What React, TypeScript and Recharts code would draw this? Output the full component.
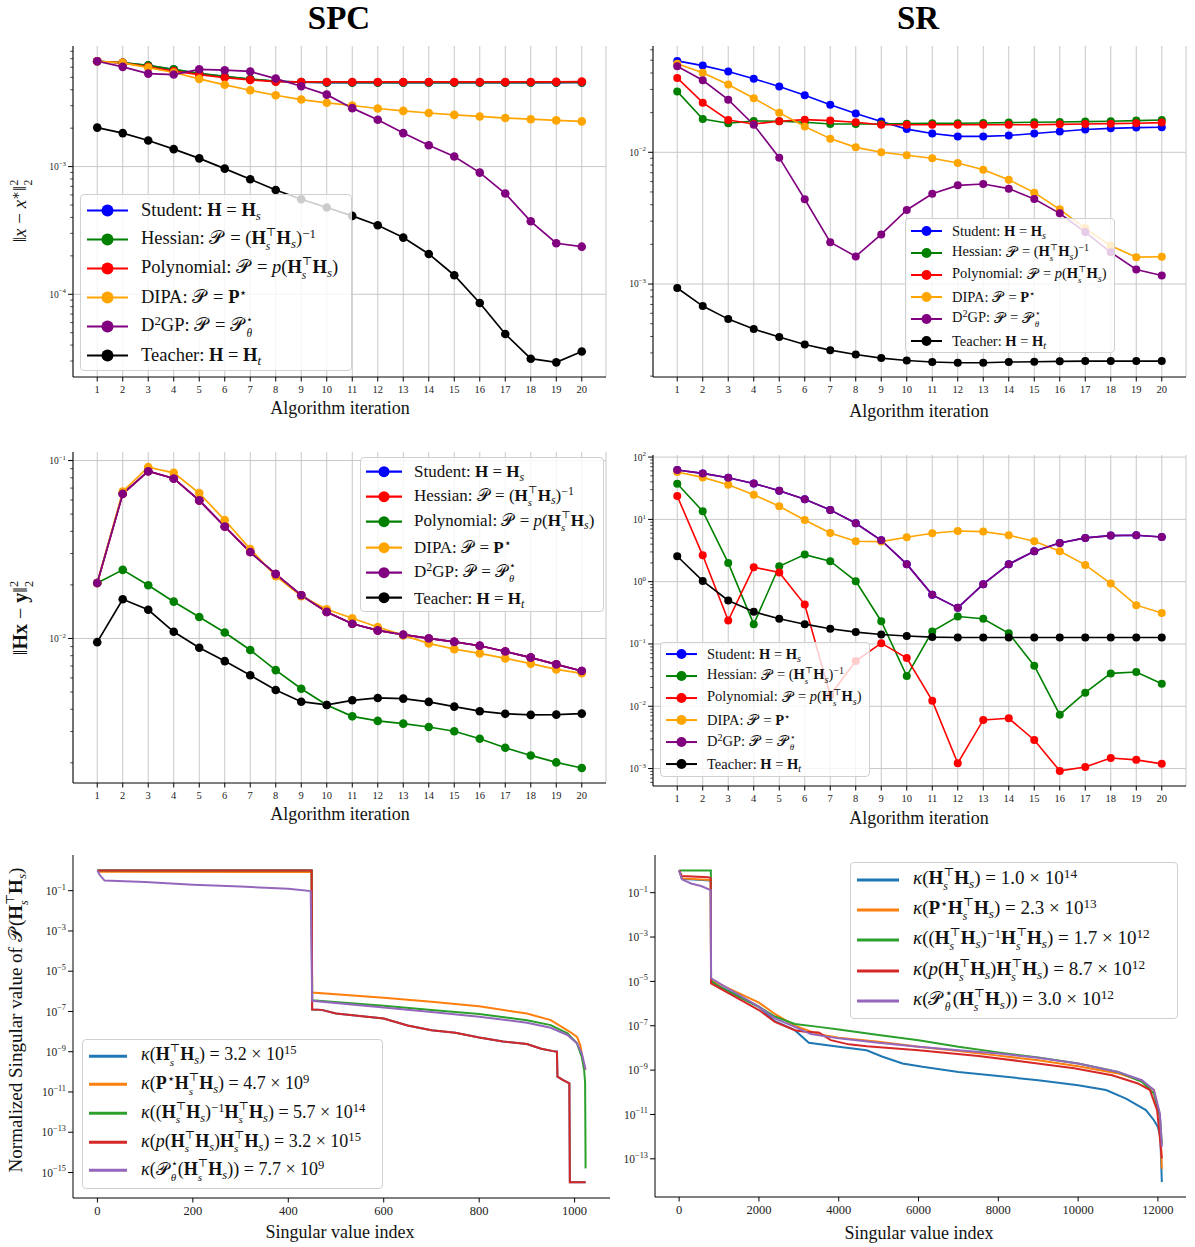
import React from 'react';
import { LineChart, Line, XAxis, YAxis, CartesianGrid } from 'recharts';

const FONT = '"Liberation Serif", "DejaVu Serif", serif';

// ---- shared categories ----
const iterations = [1, 2, 3, 4, 5, 6, 7, 8, 9, 10, 11, 12, 13, 14, 15, 16, 17, 18, 19, 20];

// ---- SPC: ||x - x*||^2 ----
const spcXStudent = [0.00668, 0.00649, 0.00618, 0.00575, 0.00535, 0.00507, 0.00483, 0.00466, 0.00458, 0.00455, 0.00455, 0.00455, 0.00455, 0.00455, 0.00455, 0.00455, 0.00455, 0.00455, 0.00455, 0.00456];
const spcXHessian = [0.00668, 0.00651, 0.0062, 0.00577, 0.00537, 0.00508, 0.00484, 0.00467, 0.00459, 0.00456, 0.00455, 0.00455, 0.00455, 0.00455, 0.00455, 0.00455, 0.00455, 0.00455, 0.00456, 0.00457];
const spcXPoly = [0.00668, 0.00649, 0.00604, 0.00559, 0.00526, 0.00498, 0.00478, 0.00463, 0.0046, 0.0046, 0.0046, 0.0046, 0.0046, 0.0046, 0.0046, 0.0046, 0.0046, 0.0046, 0.00461, 0.00463];
const spcXDipa = [0.00668, 0.00649, 0.00596, 0.00546, 0.00486, 0.00437, 0.00396, 0.00362, 0.00335, 0.00316, 0.00301, 0.00285, 0.00273, 0.00263, 0.00254, 0.00247, 0.0024, 0.00235, 0.0023, 0.00226];
const spcXD2gp = [0.00668, 0.00604, 0.00535, 0.00526, 0.00578, 0.00569, 0.00556, 0.00489, 0.00426, 0.00366, 0.00287, 0.00233, 0.00183, 0.00147, 0.0012, 0.000897, 0.000615, 0.000373, 0.000251, 0.000236];
const spcXTeacher = [0.00202, 0.00183, 0.0016, 0.00137, 0.00116, 0.000964, 0.000796, 0.000656, 0.000555, 0.000478, 0.000411, 0.000347, 0.000278, 0.000207, 0.000141, 0.0000855, 0.0000489, 0.0000313, 0.0000293, 0.0000356];

// ---- SR: ||x - x*||^2 ----
const srXStudent = [0.0494, 0.0455, 0.041, 0.0362, 0.0316, 0.0271, 0.023, 0.0197, 0.0171, 0.015, 0.0139, 0.0132, 0.0132, 0.0134, 0.0139, 0.0144, 0.0149, 0.0152, 0.0154, 0.0155];
const srXHessian = [0.029, 0.0179, 0.0166, 0.0173, 0.0172, 0.0169, 0.0164, 0.0164, 0.0164, 0.0165, 0.0166, 0.0166, 0.0167, 0.0168, 0.0169, 0.017, 0.0171, 0.0172, 0.0174, 0.0176];
const srXPoly = [0.0367, 0.0238, 0.0176, 0.0164, 0.0172, 0.0177, 0.0174, 0.0169, 0.0162, 0.0162, 0.0162, 0.0162, 0.0162, 0.0162, 0.0162, 0.0163, 0.0164, 0.0165, 0.0166, 0.0168];
const srXDipa = [0.0471, 0.0401, 0.0327, 0.0257, 0.02, 0.0157, 0.0127, 0.0109, 0.01, 0.00949, 0.009, 0.0083, 0.00738, 0.0062, 0.00494, 0.00369, 0.00265, 0.00195, 0.0016, 0.00161];
const srXD2gp = [0.045, 0.0352, 0.0251, 0.0162, 0.0091, 0.0044, 0.00208, 0.00162, 0.00238, 0.00365, 0.00485, 0.00561, 0.00574, 0.0053, 0.00442, 0.00344, 0.00248, 0.00174, 0.00129, 0.00116];
const srXTeacher = [0.000933, 0.000681, 0.000542, 0.000455, 0.000396, 0.000348, 0.000315, 0.000292, 0.000274, 0.000263, 0.000256, 0.000253, 0.000253, 0.000256, 0.000257, 0.000259, 0.00026, 0.00026, 0.00026, 0.00026];

// ---- SPC: ||Hx - y||^2 ----
const spcYStudent = [0.0205, 0.065, 0.0871, 0.0793, 0.0597, 0.0426, 0.0306, 0.023, 0.0175, 0.0141, 0.0121, 0.0111, 0.0105, 0.01, 0.00957, 0.0091, 0.00845, 0.0078, 0.00715, 0.00656];
const spcYHessian = [0.0205, 0.065, 0.0871, 0.0793, 0.0597, 0.0426, 0.0306, 0.023, 0.0175, 0.0141, 0.0121, 0.0111, 0.0105, 0.01, 0.00957, 0.0091, 0.00845, 0.0078, 0.00715, 0.00656];
const spcYPoly = [0.0205, 0.0243, 0.0199, 0.0161, 0.0132, 0.0108, 0.00861, 0.00664, 0.00522, 0.00423, 0.00365, 0.00344, 0.00332, 0.00318, 0.00301, 0.00273, 0.00243, 0.0022, 0.00201, 0.00187];
const spcYDipa = [0.0205, 0.067, 0.0918, 0.0853, 0.0656, 0.0463, 0.0318, 0.0224, 0.0173, 0.0146, 0.013, 0.0116, 0.0104, 0.00938, 0.00871, 0.00824, 0.00773, 0.00722, 0.0067, 0.00637];
const spcYD2gp = [0.0205, 0.065, 0.0871, 0.0793, 0.0597, 0.0426, 0.0306, 0.023, 0.0175, 0.0141, 0.0121, 0.0111, 0.0105, 0.01, 0.00957, 0.0091, 0.00845, 0.0078, 0.00715, 0.00656];
const spcYTeacher = [0.00953, 0.0166, 0.0145, 0.0109, 0.00887, 0.00746, 0.00621, 0.00513, 0.00441, 0.00423, 0.00449, 0.00463, 0.00459, 0.0044, 0.00414, 0.0039, 0.00377, 0.00372, 0.00373, 0.00378];

// ---- SR: ||Hx - y||^2 ----
const srYStudent = [61.9, 54.7, 46.6, 37.8, 28.9, 21.0, 14.2, 8.65, 4.62, 1.91, 0.614, 0.38, 0.91, 1.91, 3.08, 4.18, 5.04, 5.49, 5.56, 5.22];
const srYHessian = [37.4, 13.5, 2.0, 0.208, 1.77, 2.72, 2.13, 1.02, 0.232, 0.0305, 0.159, 0.276, 0.254, 0.148, 0.0448, 0.00733, 0.0165, 0.0337, 0.0354, 0.023];
const srYPoly = [23.7, 2.65, 0.238, 1.71, 1.4, 0.43, 0.015, 0.0531, 0.103, 0.0594, 0.0123, 0.00122, 0.00603, 0.00641, 0.00288, 0.000918, 0.00106, 0.00148, 0.00138, 0.00119];
const srYDipa = [57.5, 47.2, 36.0, 24.9, 16.2, 9.77, 6.05, 4.45, 4.4, 5.16, 5.98, 6.52, 6.36, 5.56, 4.45, 3.08, 1.86, 0.933, 0.42, 0.313];
const srYD2gp = [61.9, 54.7, 46.6, 37.8, 28.9, 21.0, 14.2, 8.65, 4.62, 1.91, 0.614, 0.38, 0.91, 1.91, 3.08, 4.18, 5.04, 5.49, 5.56, 5.22];
const srYTeacher = [2.56, 1.03, 0.499, 0.328, 0.254, 0.208, 0.175, 0.155, 0.142, 0.134, 0.129, 0.127, 0.127, 0.127, 0.127, 0.127, 0.127, 0.127, 0.127, 0.127];

// ---- SPC singular values (index, value) ----
const spcRedIdx = [0, 449, 450, 470, 500, 520, 560, 600, 650, 700, 750, 800, 850, 900, 930, 955, 963, 964, 975, 989, 990, 1023];
const spcRedVal = [1, 1, 1.26e-7, 1.2e-7, 7.9e-8, 7.1e-8, 5.6e-8, 4.5e-8, 2.0e-8, 1.17e-8, 8.7e-9, 5.1e-9, 3.2e-9, 2.4e-9, 1.41e-9, 1.07e-9, 1.0e-9, 5.8e-11, 4.0e-11, 2.7e-11, 3.3e-16, 3.3e-16];
const spcBlueIdx = [0, 449, 450, 470, 500, 520, 560, 600, 650, 700, 750, 800, 850, 900, 930, 955, 963, 964, 975, 989, 990, 1023];
const spcBlueVal = [1, 1, 1.26e-7, 1.2e-7, 7.9e-8, 7.1e-8, 5.6e-8, 4.5e-8, 2.0e-8, 1.17e-8, 8.7e-9, 5.1e-9, 3.2e-9, 2.4e-9, 1.41e-9, 1.07e-9, 1.0e-9, 5.8e-11, 4.0e-11, 2.7e-11, 3.3e-16, 3.3e-16];
const spcOrangeIdx = [0, 5, 449, 450, 600, 700, 800, 900, 950, 990, 1005, 1012, 1020, 1023];
const spcOrangeVal = [1, 0.88, 0.84, 8.7e-7, 4.8e-7, 3.0e-7, 1.82e-7, 7.9e-8, 3.7e-8, 9.8e-9, 5.5e-9, 2.1e-9, 1.8e-10, 1.26e-10];
const spcGreenIdx = [0, 449, 450, 600, 700, 800, 900, 950, 985, 1005, 1015, 1020, 1022, 1023];
const spcGreenVal = [1, 1, 3.6e-7, 1.9e-7, 1.17e-7, 7.4e-8, 3.7e-8, 2.1e-8, 8.1e-9, 2.6e-9, 5.6e-10, 1.23e-10, 2.7e-11, 1.6e-15];
const spcPurpleIdx = [0, 5, 15, 100, 200, 300, 400, 447, 450, 600, 700, 800, 900, 950, 985, 1005, 1015, 1023];
const spcPurpleVal = [1, 0.6, 0.32, 0.27, 0.2, 0.16, 0.126, 0.096, 3.4e-7, 1.58e-7, 9.5e-8, 5.5e-8, 2.75e-8, 1.55e-8, 6.8e-9, 2.6e-9, 8.3e-10, 1.32e-10];

// ---- SR singular values (index, value) ----
const srBlueIdx = [0, 70, 780, 795, 800, 2000, 2400, 2900, 3250, 4000, 4700, 5100, 5600, 6100, 7000, 8000, 9000, 10000, 10700, 11200, 11700, 11900, 12000, 12060, 12099];
const srBlueVal = [1, 0.42, 0.35, 0.3, 9.5e-6, 7.2e-7, 1.6e-7, 6.3e-8, 1.7e-8, 1.12e-8, 7.9e-9, 4.0e-9, 2.0e-9, 1.41e-9, 8.3e-10, 5.4e-10, 3.5e-10, 2.1e-10, 1.26e-10, 5.2e-11, 1.58e-11, 5.5e-12, 2.75e-12, 1.0e-12, 9.1e-15];
const srOrangeIdx = [0, 70, 780, 795, 800, 2000, 2400, 2900, 3500, 4000, 5000, 6000, 7000, 8000, 9000, 10000, 11000, 11600, 11900, 12050, 12099];
const srOrangeVal = [1, 0.44, 0.37, 0.33, 1.15e-5, 1.1e-6, 3.4e-7, 1.0e-7, 4.1e-8, 2.9e-8, 1.9e-8, 1.12e-8, 7.2e-9, 4.5e-9, 2.8e-9, 1.5e-9, 7.1e-10, 3.2e-10, 1.26e-10, 7.9e-12, 3.6e-14];
const srGreenIdx = [0, 795, 800, 1000, 2000, 2400, 2900, 3500, 4000, 5000, 6000, 7000, 8000, 9000, 10000, 11000, 11600, 11900, 12050, 12099];
const srGreenVal = [1, 1, 1.07e-5, 5.7e-6, 7.2e-7, 2.6e-7, 1.2e-7, 8.9e-8, 6.8e-8, 3.8e-8, 2.24e-8, 1.12e-8, 6.3e-9, 3.7e-9, 2.0e-9, 8.3e-10, 3.0e-10, 8.9e-11, 7.9e-12, 5.0e-13];
const srRedIdx = [0, 70, 730, 790, 800, 2000, 2400, 2900, 3150, 3500, 3800, 4250, 4700, 6000, 7500, 8500, 9900, 10850, 11500, 11800, 11980, 12075, 12099];
const srRedVal = [1, 0.56, 0.5, 0.45, 8.1e-6, 5.1e-7, 1.5e-7, 6.3e-8, 5.4e-8, 5.0e-8, 2.24e-8, 1.45e-8, 1.2e-8, 7.9e-9, 4.3e-9, 2.6e-9, 1.2e-9, 5.9e-10, 2.5e-10, 1.26e-10, 1.58e-11, 2.95e-13, 1.05e-13];
const srPurpleIdx = [0, 70, 300, 550, 790, 800, 2000, 2400, 2900, 3300, 4000, 5000, 6000, 7000, 8000, 9000, 10000, 11000, 11600, 11900, 12050, 12099];
const srPurpleVal = [1, 0.4, 0.26, 0.2, 0.13, 1.38e-5, 7.2e-7, 2.14e-7, 8.9e-8, 4.2e-8, 2.7e-8, 1.7e-8, 1.12e-8, 7.9e-9, 5.6e-9, 3.6e-9, 2.0e-9, 8.3e-10, 3.5e-10, 1.26e-10, 1.12e-11, 3.5e-13];

// ---- ticks ----
const spcIdxTicks = [0, 200, 400, 600, 800, 1000];
const srIdxTicks = [0, 2000, 4000, 6000, 8000, 10000, 12000];
const tlMajors = [1e-4, 1e-3];
const tlMinors = [3e-5, 4e-5, 5e-5, 6e-5, 7e-5, 8e-5, 9e-5, 2e-4, 3e-4, 4e-4, 5e-4, 6e-4, 7e-4, 8e-4, 9e-4, 2e-3, 3e-3, 4e-3, 5e-3, 6e-3, 7e-3, 8e-3];
const trMajors = [1e-3, 1e-2];
const trMinors = [2e-4, 3e-4, 4e-4, 5e-4, 6e-4, 7e-4, 8e-4, 9e-4, 2e-3, 3e-3, 4e-3, 5e-3, 6e-3, 7e-3, 8e-3, 9e-3, 2e-2, 3e-2, 4e-2, 5e-2, 6e-2];
const mlMajors = [1e-2, 1e-1];
const mlMinors = [2e-3, 3e-3, 4e-3, 5e-3, 6e-3, 7e-3, 8e-3, 9e-3, 2e-2, 3e-2, 4e-2, 5e-2, 6e-2, 7e-2, 8e-2, 9e-2];
const mrMajors = [1e-3, 1e-2, 1e-1, 1, 10, 100];
const mrMinors = [6e-4, 7e-4, 8e-4, 9e-4, 2e-3, 3e-3, 4e-3, 5e-3, 6e-3, 7e-3, 8e-3, 9e-3, 2e-2, 3e-2, 4e-2, 5e-2, 6e-2, 7e-2, 8e-2, 9e-2, 0.2, 0.3, 0.4, 0.5, 0.6, 0.7, 0.8, 0.9, 2, 3, 4, 5, 6, 7, 8, 9, 20, 30, 40, 50, 60, 70, 80, 90];
const blMajors = [1e-15, 1e-13, 1e-11, 1e-9, 1e-7, 1e-5, 1e-3, 1e-1];
const brMajors = [1e-13, 1e-11, 1e-9, 1e-7, 1e-5, 1e-3, 1e-1];

const BLUE = '#0000ff';
const GREEN = '#008000';
const RED = '#ff0000';
const ORANGE = '#ffa500';
const PURPLE = '#800080';
const BLACK = '#000000';
const T_BLUE = '#1f77b4';
const T_ORANGE = '#ff7f0e';
const T_GREEN = '#2ca02c';
const T_RED = '#d62728';
const T_PURPLE = '#9467bd';

type Pt = { x: number; y: number };
type Series = { key: string; color: string; data: Pt[] };

const rows = (xs: number[], ys: number[]): Pt[] => xs.map((x, i) => ({ x, y: ys[i] }));

// ---- math-ish text helpers ----
const Bf = ({ c }: { c: string }) => <span style={{ fontWeight: 700 }}>{c}</span>;
const Sub = ({ children }: { children: React.ReactNode }) => (
  <span style={{ fontSize: '0.7em', verticalAlign: '-0.3em', lineHeight: 0 }}>{children}</span>
);
const Sup = ({ children }: { children: React.ReactNode }) => (
  <span style={{ fontSize: '0.7em', verticalAlign: '0.5em', lineHeight: 0 }}>{children}</span>
);
// stacked superscript over subscript
const SS = ({ sup, sub }: { sup: React.ReactNode; sub: React.ReactNode }) => (
  <span style={{ display: 'inline-block', verticalAlign: '-0.48em', fontSize: '0.62em', lineHeight: 1.2, textAlign: 'left' }}>
    <span style={{ display: 'block' }}>{sup}</span>
    <span style={{ display: 'block' }}>{sub}</span>
  </span>
);
const CalP = () => <span style={{ marginRight: '0.12em' }}>𝒫</span>;
const HtH = () => (
  <>
    <Bf c="H" />
    <SS sup="⊤" sub={<i>s</i>} />
    <Bf c="H" />
    <Sub><i>s</i></Sub>
  </>
);

const methodLabels = {
  student: <>Student: <Bf c="H" /> = <Bf c="H" /><Sub><i>s</i></Sub></>,
  hessian: <>Hessian: <CalP /> = (<HtH />)<Sup>−1</Sup></>,
  poly: <>Polynomial: <CalP /> = <i>p</i>(<HtH />)</>,
  dipa: <>DIPA: <CalP /> = <Bf c="P" /><Sup>⋆</Sup></>,
  d2gp: <>D<Sup>2</Sup>GP: <CalP /> = <CalP /><SS sup="⋆" sub={<i>θ</i>} /></>,
  teacher: <>Teacher: <Bf c="H" /> = <Bf c="H" /><Sub><i>t</i></Sub></>,
};

function LogTick(props: any) {
  const { x, y, payload, majors, fontSize } = props;
  const v = payload.value as number;
  const major = majors.some((m: number) => Math.abs(m - v) / m < 1e-6);
  if (!major) return <line x1={x - 2.8} x2={x} y1={y} y2={y} stroke="#000" strokeWidth={0.7} />;
  const exp = Math.round(Math.log10(v));
  const expText = exp < 0 ? `−${-exp}` : `${exp}`;
  return (
    <g>
      <line x1={x - 4.9} x2={x} y1={y} y2={y} stroke="#000" strokeWidth={1} />
      <text x={x - 7} y={y} dy={fontSize * 0.36} textAnchor="end" fontFamily={FONT} fontSize={fontSize} fill="#222">
        10<tspan dy={-fontSize * 0.45} fontSize={fontSize * 0.72}>{expText}</tspan>
      </text>
    </g>
  );
}

type PanelProps = {
  rect: [number, number, number, number];
  xDomain: [number, number];
  xTicks: number[];
  yDomain: [number, number];
  yMajors: number[];
  yMinors: number[];
  series: Series[];
  markerR: number;
  lineW: number;
  grid: boolean;
  xFont: number;
  yFont: number;
};

function Panel({ rect, xDomain, xTicks, yDomain, yMajors, yMinors, series, markerR, lineW, grid, xFont, yFont }: PanelProps) {
  const [x0, y0, x1, y1] = rect;
  const YW = 60;
  const MT = 10;
  const MR = 10;
  const XH = 30;
  const width = x1 - x0 + YW + MR;
  const height = y1 - y0 + MT + XH;
  return (
    <div style={{ position: 'absolute', left: x0 - YW, top: y0 - MT }}>
      <LineChart width={width} height={height} margin={{ top: MT, right: MR, left: 0, bottom: 0 }}>
        {grid && (
          <CartesianGrid stroke="#c8c8c8" strokeWidth={1} horizontalValues={yMajors} />
        )}
        <XAxis
          xAxisId={0}
          type="number"
          dataKey="x"
          domain={xDomain}
          ticks={xTicks}
          allowDataOverflow
          interval={0}
          height={XH}
          tickSize={4.5}
          tickMargin={4}
          stroke="#000"
          tick={{ fill: '#222', fontSize: xFont, fontFamily: FONT }}
        />
        <XAxis xAxisId="top" orientation="top" type="number" domain={xDomain} allowDataOverflow height={0} tick={false} tickLine={false} stroke="#000" />
        <YAxis
          yAxisId={0}
          type="number"
          scale="log"
          domain={yDomain}
          ticks={[...yMajors, ...yMinors]}
          allowDataOverflow
          interval={0}
          width={YW}
          tickSize={0}
          tickMargin={0}
          tickLine={false}
          stroke="#000"
          tick={<LogTick majors={yMajors} fontSize={yFont} />}
        />
        <YAxis yAxisId="right" orientation="right" type="number" domain={[0, 1]} width={0} tick={false} tickLine={false} stroke="#000" />
        {series.map((s) => (
          <Line
            key={s.key}
            xAxisId={0}
            yAxisId={0}
            data={s.data}
            dataKey="y"
            type="linear"
            stroke={s.color}
            strokeWidth={lineW}
            dot={markerR > 0 ? { r: markerR, fill: s.color, stroke: s.color, strokeWidth: 0 } : false}
            activeDot={false}
            isAnimationActive={false}
          />
        ))}
      </LineChart>
    </div>
  );
}

type Entry = { color: string; label: React.ReactNode };

function LegendBox({ left, top, width, height, rowH, padTop, padLeft, handleW, gap, fontSize, markerR, lineW, entries }: {
  left: number; top: number; width: number; height: number; rowH: number; padTop: number; padLeft: number;
  handleW: number; gap: number; fontSize: number; markerR: number; lineW: number; entries: Entry[];
}) {
  return (
    <div
      style={{
        position: 'absolute', left, top, width, height, boxSizing: 'border-box',
        background: 'rgba(255,255,255,0.8)', border: '1px solid #d0d0d0', borderRadius: 4,
        paddingTop: padTop, paddingLeft: padLeft, fontFamily: FONT, fontSize, color: '#111',
      }}
    >
      {entries.map((e, i) => (
        <div key={i} style={{ display: 'flex', alignItems: 'center', height: rowH }}>
          <svg width={handleW} height={rowH} style={{ flex: 'none' }}>
            <line x1={0} x2={handleW} y1={rowH / 2} y2={rowH / 2} stroke={e.color} strokeWidth={lineW} />
            {markerR > 0 && <circle cx={handleW / 2} cy={rowH / 2} r={markerR} fill={e.color} />}
          </svg>
          <span style={{ marginLeft: gap, whiteSpace: 'nowrap', lineHeight: 1 }}>{e.label}</span>
        </div>
      ))}
    </div>
  );
}

const Abs = ({ cx, cy, size, bold, rotate, children }: { cx: number; cy: number; size: number; bold?: boolean; rotate?: boolean; children: React.ReactNode }) => (
  <div
    style={{
      position: 'absolute', left: cx, top: cy, whiteSpace: 'nowrap', fontFamily: FONT, fontSize: size,
      fontWeight: bold ? 700 : 400, color: '#111', lineHeight: 1,
      transform: `translate(-50%, -50%)${rotate ? ' rotate(-90deg)' : ''}`,
    }}
  >
    {children}
  </div>
);

const Title = ({ cx, children }: { cx: number; children: React.ReactNode }) => (
  <div
    style={{
      position: 'absolute', left: cx - 60, top: 1, width: 120, textAlign: 'center', fontFamily: FONT,
      fontSize: 33, fontWeight: 700, lineHeight: '34px', color: '#000',
    }}
  >
    {children}
  </div>
);

export default function App() {
  const topColors = [BLUE, GREEN, RED, ORANGE, PURPLE, BLACK];
  const mk = (keys: string[], colors: string[], vals: number[][]): Series[] =>
    keys.map((k, i) => ({ key: k, color: colors[i], data: rows(iterations, vals[i]) }));
  const keys = ['student', 'hessian', 'poly', 'dipa', 'd2gp', 'teacher'];

  const tl = mk(keys, topColors, [spcXStudent, spcXHessian, spcXPoly, spcXDipa, spcXD2gp, spcXTeacher]);
  const tr = mk(keys, topColors, [srXStudent, srXHessian, srXPoly, srXDipa, srXD2gp, srXTeacher]);
  const mlColors = [BLUE, RED, GREEN, ORANGE, PURPLE, BLACK];
  const ml = mk(keys, mlColors, [spcYStudent, spcYHessian, spcYPoly, spcYDipa, spcYD2gp, spcYTeacher]);
  const mr = mk(keys, topColors, [srYStudent, srYHessian, srYPoly, srYDipa, srYD2gp, srYTeacher]);

  const bl: Series[] = [
    { key: 'b', color: T_BLUE, data: rows(spcBlueIdx, spcBlueVal) },
    { key: 'o', color: T_ORANGE, data: rows(spcOrangeIdx, spcOrangeVal) },
    { key: 'g', color: T_GREEN, data: rows(spcGreenIdx, spcGreenVal) },
    { key: 'r', color: T_RED, data: rows(spcRedIdx, spcRedVal) },
    { key: 'p', color: T_PURPLE, data: rows(spcPurpleIdx, spcPurpleVal) },
  ];
  const br: Series[] = [
    { key: 'b', color: T_BLUE, data: rows(srBlueIdx, srBlueVal) },
    { key: 'o', color: T_ORANGE, data: rows(srOrangeIdx, srOrangeVal) },
    { key: 'g', color: T_GREEN, data: rows(srGreenIdx, srGreenVal) },
    { key: 'r', color: T_RED, data: rows(srRedIdx, srRedVal) },
    { key: 'p', color: T_PURPLE, data: rows(srPurpleIdx, srPurpleVal) },
  ];

  const L = methodLabels;
  const stdEntries = (colors: string[]): Entry[] => keys.map((k, i) => ({ color: colors[i], label: (L as any)[k] }));

  const kappa = (inner: React.ReactNode, mant: string, exp: string) => (
    <><i>κ</i>({inner}) = {mant} × 10<Sup>{exp}</Sup></>
  );
  const blEntries: Entry[] = [
    { color: T_BLUE, label: kappa(<HtH />, '3.2', '15') },
    { color: T_ORANGE, label: kappa(<><Bf c="P" /><Sup>⋆</Sup><HtH /></>, '4.7', '9') },
    { color: T_GREEN, label: kappa(<>(<HtH />)<Sup>−1</Sup><HtH /></>, '5.7', '14') },
    { color: T_RED, label: kappa(<><i>p</i>(<HtH />)<HtH /></>, '3.2', '15') },
    { color: T_PURPLE, label: kappa(<><CalP /><SS sup="⋆" sub={<i>θ</i>} />(<HtH />)</>, '7.7', '9') },
  ];
  const brEntries: Entry[] = [
    { color: T_BLUE, label: kappa(<HtH />, '1.0', '14') },
    { color: T_ORANGE, label: kappa(<><Bf c="P" /><Sup>⋆</Sup><HtH /></>, '2.3', '13') },
    { color: T_GREEN, label: kappa(<>(<HtH />)<Sup>−1</Sup><HtH /></>, '1.7', '12') },
    { color: T_RED, label: kappa(<><i>p</i>(<HtH />)<HtH /></>, '8.7', '12') },
    { color: T_PURPLE, label: kappa(<><CalP /><SS sup="⋆" sub={<i>θ</i>} />(<HtH />)</>, '3.0', '12') },
  ];

  const iterDomain: [number, number] = [0.05, 20.95];

  return (
    <div style={{ position: 'relative', width: 1195, height: 1247, background: '#fff', overflow: 'hidden' }}>
      <style>{'body{margin:0;}'}</style>

      <Title cx={339}>SPC</Title>
      <Title cx={918}>SR</Title>

      <Panel rect={[73, 46, 606, 377]} xDomain={iterDomain} xTicks={iterations} yDomain={[2.25e-5, 8.8e-3]}
        yMajors={tlMajors} yMinors={tlMinors} series={tl} markerR={4.3} lineW={1.7} grid xFont={10.5} yFont={9.5} />
      <Panel rect={[653, 46, 1186, 377]} xDomain={iterDomain} xTicks={iterations} yDomain={[1.97e-4, 0.0641]}
        yMajors={trMajors} yMinors={trMinors} series={tr} markerR={4} lineW={1.6} grid xFont={10.5} yFont={9.5} />
      <Panel rect={[73, 452, 606, 783]} xDomain={iterDomain} xTicks={iterations} yDomain={[1.54e-3, 0.1117]}
        yMajors={mlMajors} yMinors={mlMinors} series={ml} markerR={4.3} lineW={1.7} grid xFont={10.5} yFont={9.5} />
      <Panel rect={[653, 455, 1186, 786]} xDomain={iterDomain} xTicks={iterations} yDomain={[5.25e-4, 108]}
        yMajors={mrMajors} yMinors={mrMinors} series={mr} markerR={4} lineW={1.6} grid xFont={10.5} yFont={9.5} />
      <Panel rect={[73, 855, 610, 1198]} xDomain={[-51.15, 1074.15]} xTicks={spcIdxTicks} yDomain={[5.4e-17, 5.94]}
        yMajors={blMajors} yMinors={[]} series={bl} markerR={0} lineW={2} grid={false} xFont={12.5} yFont={11.5} />
      <Panel rect={[655, 855, 1186, 1197]} xDomain={[-605, 12704]} xTicks={srIdxTicks} yDomain={[1.9e-15, 5.0]}
        yMajors={brMajors} yMinors={[]} series={br} markerR={0} lineW={2} grid={false} xFont={12.5} yFont={11.5} />

      <LegendBox left={80} top={194} width={272} height={177} rowH={29} padTop={1} padLeft={6} handleW={41} gap={13}
        fontSize={18.5} markerR={6} lineW={2.2} entries={stdEntries(topColors)} />
      <LegendBox left={905} top={218} width={210} height={135} rowH={22} padTop={1} padLeft={5} handleW={31} gap={10}
        fontSize={14.5} markerR={5} lineW={2} entries={stdEntries(topColors)} />
      <LegendBox left={360} top={457} width={244} height={155} rowH={25.4} padTop={0.5} padLeft={5} handleW={36} gap={12}
        fontSize={17} markerR={5.5} lineW={2.2} entries={stdEntries(mlColors)} />
      <LegendBox left={660} top={642} width={210} height={135} rowH={22.1} padTop={0} padLeft={5} handleW={31} gap={10}
        fontSize={14.5} markerR={5} lineW={2} entries={stdEntries(topColors)} />
      <LegendBox left={82} top={1039} width={301} height={150} rowH={28.7} padTop={1.5} padLeft={6} handleW={38} gap={14}
        fontSize={18} markerR={0} lineW={3} entries={blEntries} />
      <LegendBox left={850} top={862} width={328} height={157} rowH={30.2} padTop={2} padLeft={6} handleW={42} gap={14}
        fontSize={19} markerR={0} lineW={3} entries={brEntries} />

      <Abs cx={340} cy={408} size={18}>Algorithm iteration</Abs>
      <Abs cx={919} cy={411} size={18}>Algorithm iteration</Abs>
      <Abs cx={340} cy={814} size={18}>Algorithm iteration</Abs>
      <Abs cx={919} cy={818} size={18}>Algorithm iteration</Abs>
      <Abs cx={340} cy={1232} size={18}>Singular value index</Abs>
      <Abs cx={919} cy={1233} size={18}>Singular value index</Abs>

      <Abs cx={22} cy={211} size={19} rotate>‖<i>x</i> − <i>x</i><Sup>∗</Sup>‖<SS sup="2" sub="2" /></Abs>
      <Abs cx={22} cy={618} size={20} rotate>‖<Bf c="Hx" /> − <Bf c="y" />‖<SS sup="2" sub="2" /></Abs>
      <Abs cx={18} cy={1020} size={19} rotate>Normalized Singular value of <CalP />(<HtH />)</Abs>
    </div>
  );
}
